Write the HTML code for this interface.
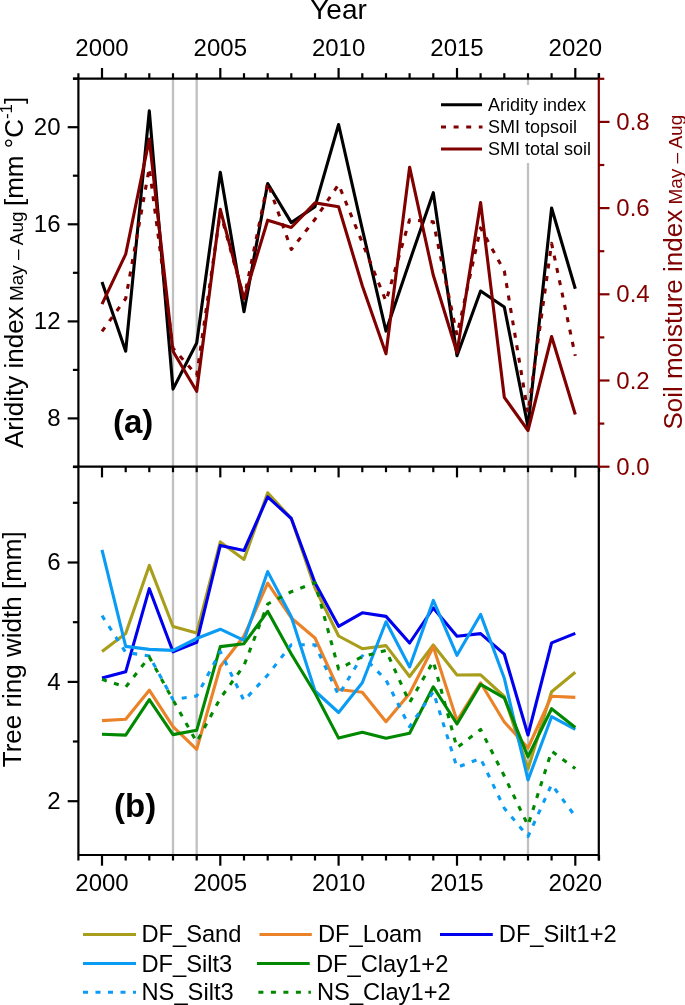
<!DOCTYPE html><html><head><meta charset="utf-8"><style>html,body{margin:0;padding:0;background:#fff;}svg{display:block;font-family:"Liberation Sans",sans-serif;will-change:transform;}</style></head><body>
<svg width="685" height="1005" viewBox="0 0 685 1005">
<rect width="685" height="1005" fill="#fff"/>
<line x1="173.0" y1="78.7" x2="173.0" y2="855.0" stroke="#c0c0c0" stroke-width="2.3"/>
<line x1="196.7" y1="78.7" x2="196.7" y2="855.0" stroke="#c0c0c0" stroke-width="2.3"/>
<line x1="528.0" y1="78.7" x2="528.0" y2="855.0" stroke="#c0c0c0" stroke-width="2.3"/>
<rect x="436" y="85" width="160" height="78" fill="#fff"/>
<g fill="none" stroke-linejoin="round">
<polyline points="102.0,282.0 125.7,351.2 149.3,110.9 173.0,389.1 196.7,343.0 220.3,172.3 244.0,311.7 267.7,183.5 291.3,222.6 315.0,206.6 338.6,124.5 362.3,229.1 386.0,331.1 409.6,261.4 433.3,192.7 457.0,355.8 480.6,291.0 504.3,307.0 528.0,426.7 551.6,208.0 575.3,288.8" stroke="#000" stroke-width="3.1"/>
<polyline points="102.0,331.4 125.7,298.6 149.3,168.0 173.0,348.2 196.7,375.3 220.3,212.4 244.0,298.6 267.7,182.7 291.3,249.5 315.0,219.3 338.6,184.4 362.3,242.6 386.0,301.2 409.6,219.7 433.3,221.9 457.0,335.2 480.6,227.9 504.3,271.0 528.0,412.8 551.6,243.4 575.3,355.9" stroke="#800000" stroke-width="3.1" stroke-dasharray="5 7.6"/>
<polyline points="102.0,304.2 125.7,254.2 149.3,139.1 173.0,351.2 196.7,391.3 220.3,209.4 244.0,298.6 267.7,220.2 291.3,227.5 315.0,202.9 338.6,206.8 362.3,285.7 386.0,353.8 409.6,167.2 433.3,275.3 457.0,352.5 480.6,202.5 504.3,397.3 528.0,430.5 551.6,336.5 575.3,414.5" stroke="#800000" stroke-width="3.1"/>
</g>
<g fill="none" stroke-linejoin="round">
<polyline points="102.0,651.4 125.7,633.5 149.3,565.4 173.0,626.5 196.7,633.0 220.3,541.9 244.0,559.4 267.7,492.8 291.3,518.5 315.0,588.0 338.6,636.0 362.3,648.7 386.0,645.6 409.6,676.5 433.3,645.0 457.0,675.0 480.6,674.9 504.3,696.5 528.0,769.0 551.6,691.7 575.3,672.3" stroke="#a89e1c" stroke-width="3.1"/>
<polyline points="102.0,720.6 125.7,719.2 149.3,690.2 173.0,726.7 196.7,749.3 220.3,666.5 244.0,636.0 267.7,583.2 291.3,618.0 315.0,638.0 338.6,689.5 362.3,692.2 386.0,721.7 409.6,693.5 433.3,646.7 457.0,720.8 480.6,682.8 504.3,722.0 528.0,748.0 551.6,696.2 575.3,697.4" stroke="#eb8228" stroke-width="3.1"/>
<polyline points="102.0,678.0 125.7,671.8 149.3,588.7 173.0,651.8 196.7,642.4 220.3,545.4 244.0,550.5 267.7,496.8 291.3,518.5 315.0,582.8 338.6,626.3 362.3,612.8 386.0,616.4 409.6,643.0 433.3,608.0 457.0,636.3 480.6,633.6 504.3,654.2 528.0,735.0 551.6,642.9 575.3,633.4" stroke="#0000ee" stroke-width="3.1"/>
<polyline points="102.0,549.9 125.7,646.4 149.3,649.4 173.0,650.4 196.7,638.5 220.3,629.2 244.0,640.3 267.7,571.6 291.3,616.8 315.0,691.0 338.6,712.5 362.3,682.7 386.0,621.8 409.6,667.0 433.3,600.4 457.0,655.3 480.6,614.4 504.3,678.2 528.0,780.0 551.6,716.7 575.3,729.3" stroke="#0a9cf5" stroke-width="3.1"/>
<polyline points="102.0,734.3 125.7,735.1 149.3,699.6 173.0,734.6 196.7,730.3 220.3,646.6 244.0,643.7 267.7,611.3 291.3,654.0 315.0,693.0 338.6,738.1 362.3,732.3 386.0,738.2 409.6,733.2 433.3,686.8 457.0,724.0 480.6,684.4 504.3,697.9 528.0,756.8 551.6,708.7 575.3,727.5" stroke="#008800" stroke-width="3.1"/>
<polyline points="102.0,615.6 125.7,652.4 149.3,656.0 173.0,699.5 196.7,696.0 220.3,651.6 244.0,700.6 267.7,675.0 291.3,644.7 315.0,644.9 338.6,695.2 362.3,655.8 386.0,680.0 409.6,726.7 433.3,691.8 457.0,767.4 480.6,758.5 504.3,808.2 528.0,836.5 551.6,784.5 575.3,816.4" stroke="#0a9cf5" stroke-width="3.1" stroke-dasharray="5 7.6"/>
<polyline points="102.0,679.4 125.7,687.1 149.3,657.0 173.0,700.0 196.7,742.0 220.3,698.3 244.0,665.5 267.7,604.0 291.3,591.7 315.0,582.6 338.6,669.0 362.3,656.7 386.0,650.5 409.6,702.5 433.3,661.3 457.0,747.8 480.6,729.5 504.3,776.0 528.0,825.5 551.6,751.0 575.3,768.6" stroke="#008800" stroke-width="3.1" stroke-dasharray="5 7.6"/>
</g>
<g stroke="#000" stroke-width="2.2" stroke-linecap="butt" fill="none">
<line x1="73" y1="78.7" x2="598.8" y2="78.7"/>
<line x1="73" y1="466.7" x2="598.8" y2="466.7"/>
<line x1="78.4" y1="855.0" x2="598.8" y2="855.0"/>
<line x1="78.4" y1="73.2" x2="78.4" y2="860.5"/>
<line x1="598.8" y1="466.7" x2="598.8" y2="860.5"/>
<line x1="598.8" y1="73.2" x2="598.8" y2="78.7"/>
<line x1="102.0" y1="78.7" x2="102.0" y2="68.0"/>
<line x1="102.0" y1="466.7" x2="102.0" y2="477.4"/>
<line x1="102.0" y1="855.0" x2="102.0" y2="865.7"/>
<line x1="125.7" y1="78.7" x2="125.7" y2="73.2"/>
<line x1="125.7" y1="466.7" x2="125.7" y2="472.2"/>
<line x1="125.7" y1="855.0" x2="125.7" y2="860.5"/>
<line x1="149.3" y1="78.7" x2="149.3" y2="73.2"/>
<line x1="149.3" y1="466.7" x2="149.3" y2="472.2"/>
<line x1="149.3" y1="855.0" x2="149.3" y2="860.5"/>
<line x1="173.0" y1="78.7" x2="173.0" y2="73.2"/>
<line x1="173.0" y1="466.7" x2="173.0" y2="472.2"/>
<line x1="173.0" y1="855.0" x2="173.0" y2="860.5"/>
<line x1="196.7" y1="78.7" x2="196.7" y2="73.2"/>
<line x1="196.7" y1="466.7" x2="196.7" y2="472.2"/>
<line x1="196.7" y1="855.0" x2="196.7" y2="860.5"/>
<line x1="220.3" y1="78.7" x2="220.3" y2="68.0"/>
<line x1="220.3" y1="466.7" x2="220.3" y2="477.4"/>
<line x1="220.3" y1="855.0" x2="220.3" y2="865.7"/>
<line x1="244.0" y1="78.7" x2="244.0" y2="73.2"/>
<line x1="244.0" y1="466.7" x2="244.0" y2="472.2"/>
<line x1="244.0" y1="855.0" x2="244.0" y2="860.5"/>
<line x1="267.7" y1="78.7" x2="267.7" y2="73.2"/>
<line x1="267.7" y1="466.7" x2="267.7" y2="472.2"/>
<line x1="267.7" y1="855.0" x2="267.7" y2="860.5"/>
<line x1="291.3" y1="78.7" x2="291.3" y2="73.2"/>
<line x1="291.3" y1="466.7" x2="291.3" y2="472.2"/>
<line x1="291.3" y1="855.0" x2="291.3" y2="860.5"/>
<line x1="315.0" y1="78.7" x2="315.0" y2="73.2"/>
<line x1="315.0" y1="466.7" x2="315.0" y2="472.2"/>
<line x1="315.0" y1="855.0" x2="315.0" y2="860.5"/>
<line x1="338.6" y1="78.7" x2="338.6" y2="68.0"/>
<line x1="338.6" y1="466.7" x2="338.6" y2="477.4"/>
<line x1="338.6" y1="855.0" x2="338.6" y2="865.7"/>
<line x1="362.3" y1="78.7" x2="362.3" y2="73.2"/>
<line x1="362.3" y1="466.7" x2="362.3" y2="472.2"/>
<line x1="362.3" y1="855.0" x2="362.3" y2="860.5"/>
<line x1="386.0" y1="78.7" x2="386.0" y2="73.2"/>
<line x1="386.0" y1="466.7" x2="386.0" y2="472.2"/>
<line x1="386.0" y1="855.0" x2="386.0" y2="860.5"/>
<line x1="409.6" y1="78.7" x2="409.6" y2="73.2"/>
<line x1="409.6" y1="466.7" x2="409.6" y2="472.2"/>
<line x1="409.6" y1="855.0" x2="409.6" y2="860.5"/>
<line x1="433.3" y1="78.7" x2="433.3" y2="73.2"/>
<line x1="433.3" y1="466.7" x2="433.3" y2="472.2"/>
<line x1="433.3" y1="855.0" x2="433.3" y2="860.5"/>
<line x1="457.0" y1="78.7" x2="457.0" y2="68.0"/>
<line x1="457.0" y1="466.7" x2="457.0" y2="477.4"/>
<line x1="457.0" y1="855.0" x2="457.0" y2="865.7"/>
<line x1="480.6" y1="78.7" x2="480.6" y2="73.2"/>
<line x1="480.6" y1="466.7" x2="480.6" y2="472.2"/>
<line x1="480.6" y1="855.0" x2="480.6" y2="860.5"/>
<line x1="504.3" y1="78.7" x2="504.3" y2="73.2"/>
<line x1="504.3" y1="466.7" x2="504.3" y2="472.2"/>
<line x1="504.3" y1="855.0" x2="504.3" y2="860.5"/>
<line x1="528.0" y1="78.7" x2="528.0" y2="73.2"/>
<line x1="528.0" y1="466.7" x2="528.0" y2="472.2"/>
<line x1="528.0" y1="855.0" x2="528.0" y2="860.5"/>
<line x1="551.6" y1="78.7" x2="551.6" y2="73.2"/>
<line x1="551.6" y1="466.7" x2="551.6" y2="472.2"/>
<line x1="551.6" y1="855.0" x2="551.6" y2="860.5"/>
<line x1="575.3" y1="78.7" x2="575.3" y2="68.0"/>
<line x1="575.3" y1="466.7" x2="575.3" y2="477.4"/>
<line x1="575.3" y1="855.0" x2="575.3" y2="865.7"/>
<line x1="599.0" y1="78.7" x2="599.0" y2="73.2"/>
<line x1="599.0" y1="466.7" x2="599.0" y2="472.2"/>
<line x1="599.0" y1="855.0" x2="599.0" y2="860.5"/>
<line x1="78.4" y1="467.0" x2="72.9" y2="467.0"/>
<line x1="78.4" y1="418.4" x2="67.7" y2="418.4"/>
<line x1="78.4" y1="369.9" x2="72.9" y2="369.9"/>
<line x1="78.4" y1="321.4" x2="67.7" y2="321.4"/>
<line x1="78.4" y1="272.8" x2="72.9" y2="272.8"/>
<line x1="78.4" y1="224.3" x2="67.7" y2="224.3"/>
<line x1="78.4" y1="175.7" x2="72.9" y2="175.7"/>
<line x1="78.4" y1="127.2" x2="67.7" y2="127.2"/>
<line x1="78.4" y1="78.7" x2="72.9" y2="78.7"/>
<line x1="78.4" y1="801.2" x2="67.7" y2="801.2"/>
<line x1="78.4" y1="741.5" x2="72.9" y2="741.5"/>
<line x1="78.4" y1="681.9" x2="67.7" y2="681.9"/>
<line x1="78.4" y1="622.2" x2="72.9" y2="622.2"/>
<line x1="78.4" y1="562.5" x2="67.7" y2="562.5"/>
<line x1="78.4" y1="502.8" x2="72.9" y2="502.8"/>
</g>
<g stroke="#800000" stroke-width="2.2" stroke-linecap="butt" fill="none">
<line x1="598.8" y1="78.7" x2="598.8" y2="466.7"/>
<line x1="598.8" y1="466.7" x2="609.5" y2="466.7"/>
<line x1="598.8" y1="423.6" x2="604.3" y2="423.6"/>
<line x1="598.8" y1="380.5" x2="609.5" y2="380.5"/>
<line x1="598.8" y1="337.4" x2="604.3" y2="337.4"/>
<line x1="598.8" y1="294.3" x2="609.5" y2="294.3"/>
<line x1="598.8" y1="251.2" x2="604.3" y2="251.2"/>
<line x1="598.8" y1="208.1" x2="609.5" y2="208.1"/>
<line x1="598.8" y1="165.0" x2="604.3" y2="165.0"/>
<line x1="598.8" y1="121.9" x2="609.5" y2="121.9"/>
<line x1="598.8" y1="78.8" x2="604.3" y2="78.8"/>
</g>
<g font-size="24" fill="#000" text-anchor="middle">
<text x="102.0" y="55.5">2000</text>
<text x="102.0" y="891">2000</text>
<text x="220.3" y="55.5">2005</text>
<text x="220.3" y="891">2005</text>
<text x="338.6" y="55.5">2010</text>
<text x="338.6" y="891">2010</text>
<text x="457.0" y="55.5">2015</text>
<text x="457.0" y="891">2015</text>
<text x="575.3" y="55.5">2020</text>
<text x="575.3" y="891">2020</text>
</g>
<g font-size="24" fill="#000" text-anchor="end">
<text x="60.5" y="426.0">8</text>
<text x="60.5" y="329.0">12</text>
<text x="60.5" y="231.9">16</text>
<text x="60.5" y="134.8">20</text>
<text x="60.5" y="808.8">2</text>
<text x="60.5" y="689.5">4</text>
<text x="60.5" y="570.1">6</text>
</g>
<g font-size="24" fill="#800000" text-anchor="start">
<text x="616.3" y="474.8">0.0</text>
<text x="616.3" y="388.6">0.2</text>
<text x="616.3" y="302.4">0.4</text>
<text x="616.3" y="216.2">0.6</text>
<text x="616.3" y="130.0">0.8</text>
</g>
<text x="338.5" y="18.5" font-size="28" text-anchor="middle">Year</text>
<text transform="translate(23,448) rotate(-90)" font-size="26" text-anchor="start">Aridity index<tspan font-size="19"> May – Aug </tspan>[mm °C<tspan font-size="17" dy="-11">-1</tspan><tspan dy="11">]</tspan></text>
<text transform="translate(682,429.5) rotate(-90)" font-size="26" fill="#800000" text-anchor="start">Soil moisture index<tspan font-size="19"> May – Aug</tspan></text>
<text transform="translate(21.2,649.3) rotate(-90)" font-size="26" text-anchor="middle">Tree ring width [mm]</text>
<text x="113" y="433" font-size="33" font-weight="bold">(a)</text>
<text x="114" y="817" font-size="33" font-weight="bold">(b)</text>
<g font-size="18">
<line x1="441" y1="104.8" x2="482" y2="104.8" stroke="#000" stroke-width="3"/>
<line x1="441" y1="127" x2="482.5" y2="127" stroke="#800000" stroke-width="3" stroke-dasharray="5 7.6"/>
<line x1="441" y1="149" x2="482" y2="149" stroke="#800000" stroke-width="3"/>
<text x="488" y="111">Aridity index</text>
<text x="488" y="133">SMI topsoil</text>
<text x="488" y="155">SMI total soil</text>
</g>
<g font-size="23.7">
<line x1="83" y1="934.4" x2="136" y2="934.4" stroke="#a89e1c" stroke-width="3"/>
<text x="141.4" y="942.4">DF_Sand</text>
<line x1="259.5" y1="934.4" x2="311.8" y2="934.4" stroke="#eb8228" stroke-width="3"/>
<text x="318" y="942.4">DF_Loam</text>
<line x1="440" y1="934.4" x2="492.8" y2="934.4" stroke="#0000ee" stroke-width="3"/>
<text x="498.8" y="942.4">DF_Silt1+2</text>
<line x1="83" y1="963.5" x2="136" y2="963.5" stroke="#0a9cf5" stroke-width="3"/>
<text x="141.4" y="971.5">DF_Silt3</text>
<line x1="257" y1="963.5" x2="309.7" y2="963.5" stroke="#008800" stroke-width="3"/>
<text x="316" y="971.5">DF_Clay1+2</text>
<line x1="83" y1="992.2" x2="136" y2="992.2" stroke="#0a9cf5" stroke-width="3" stroke-dasharray="5 7.5"/>
<text x="141.5" y="1000.2">NS_Silt3</text>
<line x1="258.4" y1="992.2" x2="310.9" y2="992.2" stroke="#008800" stroke-width="3" stroke-dasharray="5 7.5"/>
<text x="317" y="1000.2">NS_Clay1+2</text>
</g>
</svg></body></html>
